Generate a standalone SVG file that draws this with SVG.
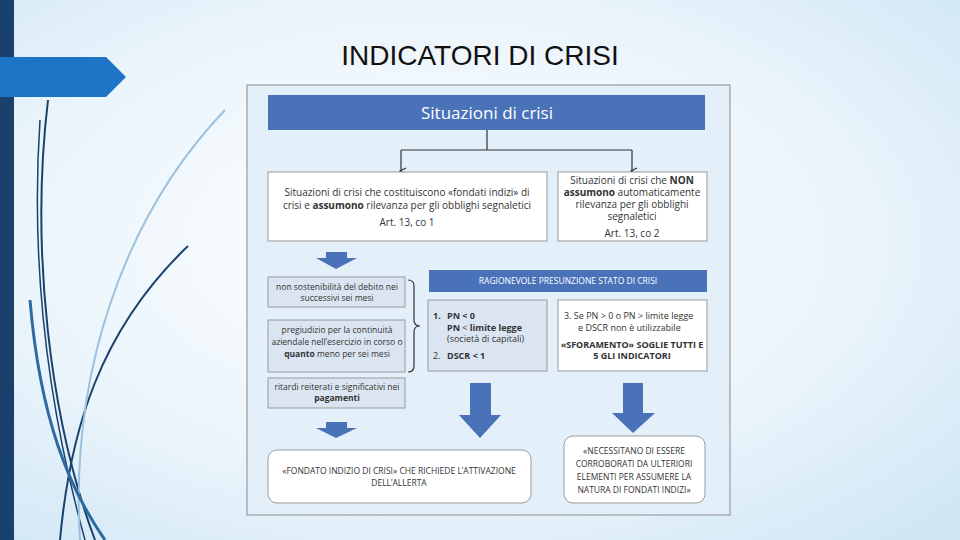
<svg xmlns="http://www.w3.org/2000/svg" width="960" height="540" viewBox="0 0 960 540">
<defs>
<radialGradient id="bg" cx="0.45" cy="0.45" r="0.75">
<stop offset="0" stop-color="#ffffff"/><stop offset="0.6" stop-color="#eaf4fb"/><stop offset="1" stop-color="#cfe6f5"/>
</radialGradient>
<marker id="ah" markerWidth="8" markerHeight="8" refX="4" refY="6" orient="auto" markerUnits="userSpaceOnUse"><path d="M1,1 L4,7 L7,1" fill="none" stroke="#333" stroke-width="1.2"/></marker>
<style>
.t{font-family:"Open Sans","Liberation Sans",sans-serif;fill:#333;font-size:10px;text-anchor:middle}
.s{font-family:"Open Sans","Liberation Sans",sans-serif;fill:#333;font-size:8.5px;text-anchor:middle}
.b{font-weight:bold}
.box{fill:#fff;stroke:#9a9a9a;stroke-width:1}
.lb{fill:#dbe5f1;stroke:#9a9a9a;stroke-width:1}
.blue{fill:#4a72b8}
.deco{fill:none;stroke:#1d4f7c;stroke-width:2}
</style>
</defs>
<rect width="960" height="540" fill="url(#bg)"/>
<rect x="0" y="0" width="14" height="540" fill="#1a416d"/>
<path d="M0,57 L106,57 L126,77 L106,97 L0,97 Z" fill="#1e74c6"/>
<g class="deco">
<path d="M48,100 C30,250 50,420 95,540" stroke="#1a416d"/>
<path d="M40,120 C28,300 60,450 85,540" stroke="#1a416d" stroke-width="1.5"/>
<path d="M188,246 C100,330 70,430 60,540" stroke="#1a416d"/>
<path d="M225,110 C120,220 70,380 80,540" stroke="#9cc1df"/>
<path d="M30,300 C40,420 70,490 105,540" stroke="#2c6aa3" stroke-width="3"/>
</g>
<text x="480" y="65" font-family="Liberation Sans, Arial, sans-serif" font-size="28" fill="#111" text-anchor="middle">INDICATORI DI CRISI</text>
<rect x="247" y="85" width="483" height="430" fill="#e3f0fa" stroke="#8a8a8a"/>
<g id="header"><rect x="268" y="95" width="437" height="35" class="blue"/>
<text x="487" y="119" font-family="Open Sans,Liberation Sans,sans-serif" font-size="17" fill="#fff" text-anchor="middle">Situazioni di crisi</text></g>
<g id="connectors" fill="none" stroke="#333" stroke-width="1.2">
<path d="M487,130 V150 M401,150 H632"/>
<path d="M401,150 V171" marker-end="url(#ah)"/>
<path d="M632,150 V171" marker-end="url(#ah)"/>
<path d="M408,280 Q414,280 414,286 V320 Q414,326 420,326 Q414,326 414,332 V366 Q414,372 408,372"/>
</g>
<g id="box1"><rect x="268" y="172" width="279" height="69" class="box"/>
<text class="t" x="407" y="196">Situazioni di crisi che costituiscono «fondati indizi» di</text>
<text class="t" x="407" y="209">crisi e <tspan class="b">assumono</tspan> rilevanza per gli obblighi segnaletici</text>
<text class="t" x="407" y="226">Art. 13, co 1</text></g>
<g id="box2"><rect x="558" y="172" width="149" height="69" class="box"/>
<text class="t" x="632" y="184">Situazioni di crisi che <tspan class="b">NON</tspan></text>
<text class="t" x="632" y="196"><tspan class="b">assumono</tspan> automaticamente</text>
<text class="t" x="632" y="208">rilevanza per gli obblighi</text>
<text class="t" x="632" y="220">segnaletici</text>
<text class="t" x="632" y="237">Art. 13, co 2</text></g>
<g id="arrows" class="blue">
<path d="M326,252 H347 V258 H357 L336,269 L316,258 H326 Z"/>
<path d="M326,422 H347 V428 H357 L336,438 L316,428 H326 Z"/>
<path d="M470,383 H491 V415 H501 L480,438 L459,415 H470 Z"/>
<path d="M623,383 H643 V413 H655 L633,433 L612,413 H623 Z"/>
</g>
<g id="ind1"><rect x="268" y="277" width="137" height="30" class="lb"/>
<text class="s" x="337" y="290">non sostenibilità del debito nei</text>
<text class="s" x="337" y="301">successivi sei mesi</text></g>
<g id="ind2"><rect x="268" y="320" width="137" height="52" class="lb"/>
<text class="s" x="337" y="333">pregiudizio per la continuità</text>
<text class="s" x="337" y="345">aziendale nell’esercizio in corso o</text>
<text class="s" x="337" y="357"><tspan class="b">quanto</tspan> meno per sei mesi</text></g>
<g id="ind3"><rect x="268" y="378" width="137" height="30" class="lb"/>
<text class="s" x="337" y="390">ritardi reiterati e significativi nei</text>
<text class="s" x="337" y="401"><tspan class="b">pagamenti</tspan></text></g>
<g id="rag"><rect x="429" y="270" width="278" height="22" class="blue"/>
<text class="s" x="568" y="284" style="fill:#fff">RAGIONEVOLE PRESUNZIONE STATO DI CRISI</text></g>
<g id="box3" font-family="Open Sans,Liberation Sans,sans-serif" font-size="9" fill="#333"><rect x="428" y="300" width="119" height="71" class="lb"/>
<text x="433" y="319" font-weight="bold">1.</text><text x="447" y="319" font-weight="bold">PN &lt; 0</text>
<text x="447" y="331"><tspan font-weight="bold">PN</tspan> &lt; <tspan font-weight="bold">limite legge</tspan></text>
<text x="447" y="342">(società di capitali)</text>
<text x="433" y="359">2.</text><text x="447" y="359" font-weight="bold">DSCR &lt; 1</text></g>
<g id="box4" font-family="Open Sans,Liberation Sans,sans-serif" font-size="9" fill="#333"><rect x="558" y="300" width="149" height="71" class="box"/>
<text x="564" y="319">3.   Se PN &gt; 0 o PN &gt; limite legge</text>
<text x="578" y="331">e DSCR non è utilizzabile</text>
<text x="632" y="348" text-anchor="middle" font-weight="bold">«SFORAMENTO» SOGLIE TUTTI E</text>
<text x="632" y="359" text-anchor="middle" font-weight="bold">5 GLI INDICATORI</text></g>
<g id="out1"><rect x="268" y="450" width="263" height="53" rx="9" class="box"/>
<text class="s" x="399" y="474">«FONDATO INDIZIO DI CRISI» CHE RICHIEDE L’ATTIVAZIONE</text>
<text class="s" x="399" y="486">DELL’ALLERTA</text></g>
<g id="out2"><rect x="564" y="436" width="141" height="67" rx="9" class="box"/>
<text class="s" x="634" y="454">«NECESSITANO DI ESSERE</text>
<text class="s" x="634" y="467">CORROBORATI DA ULTERIORI</text>
<text class="s" x="634" y="480">ELEMENTI PER ASSUMERE LA</text>
<text class="s" x="634" y="493">NATURA DI FONDATI INDIZI»</text></g>
</svg>
